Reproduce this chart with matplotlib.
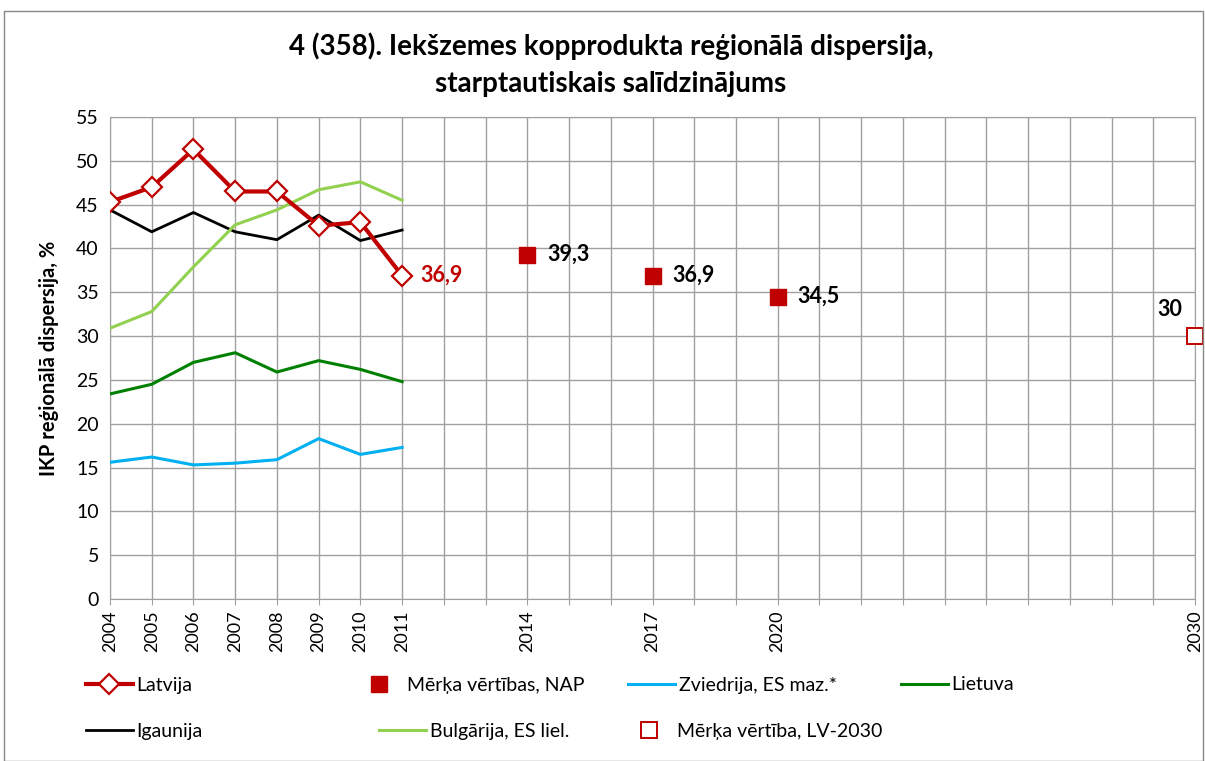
import matplotlib
matplotlib.use("Agg")
import matplotlib.pyplot as plt
from matplotlib.lines import Line2D
from matplotlib.patches import Rectangle

plt.rcParams['font.family'] = ['Lato', 'DejaVu Sans']

# data
years = list(range(2004, 2031))
hist_years = [2004, 2005, 2006, 2007, 2008, 2009, 2010, 2011]
latvija = [45.3, 47.0, 51.3, 46.5, 46.5, 42.6, 43.0, 36.9]
igaunija = [44.4, 41.9, 44.1, 41.9, 41.0, 43.8, 40.9, 42.1]
bulgarija = [30.9, 32.8, 37.9, 42.7, 44.4, 46.7, 47.6, 45.5]
lietuva = [23.4, 24.5, 27.0, 28.1, 25.9, 27.2, 26.2, 24.8]
zviedrija = [15.6, 16.2, 15.3, 15.5, 15.9, 18.3, 16.5, 17.3]
nap_years = [2014, 2017, 2020]
nap_values = [39.3, 36.9, 34.5]
lv2030_years = [2030]
lv2030_values = [30]
shown_years = [2004, 2005, 2006, 2007, 2008, 2009, 2010, 2011, 2014, 2017, 2020, 2030]

RED = '#C00000'


def pos(ys):
    return [years.index(y) for y in ys]


fig = plt.figure(figsize=(12.05, 7.61), dpi=100)
ax = fig.add_axes([110/1205, 1-599/761, (1195-110)/1205, (599-117)/761])

ax.plot(pos(hist_years), zviedrija, color='#00B0F0', lw=2.2, zorder=3)
ax.plot(pos(hist_years), lietuva, color='#008000', lw=2.2, zorder=3)
ax.plot(pos(hist_years), igaunija, color='black', lw=2.0, zorder=3)
ax.plot(pos(hist_years), bulgarija, color='#92D050', lw=2.2, zorder=3)
ax.plot(pos(hist_years), latvija, color=RED, lw=3, marker='D', ms=10,
        mfc='white', mec=RED, mew=1.6, zorder=4)
ax.plot(pos(nap_years), nap_values, ls='none', marker='s', ms=12,
        color=RED, zorder=5)
ax.plot(pos(lv2030_years), lv2030_values, ls='none', marker='s', ms=11,
        mfc='white', mec=RED, mew=1.4, zorder=5, clip_on=False)

# data labels
ax.annotate('36,9', (pos([2011])[0], latvija[-1]), xytext=(18, 0),
            textcoords='offset pixels', va='center', ha='left',
            fontsize=15.5, fontweight='bold', color=RED)
for y, v in zip(nap_years, nap_values):
    ax.annotate(str(v).replace('.', ','), (pos([y])[0], v), xytext=(20, 0),
                textcoords='offset pixels', va='center', ha='left',
                fontsize=15.5, fontweight='bold', color='black')
ax.annotate('30', (pos([2030])[0], 30), xytext=(-25, 27),
            textcoords='offset pixels', va='center', ha='center',
            fontsize=15.5, fontweight='bold', color='black')

ax.set_xlim(0, len(years) - 1)
ax.set_ylim(0, 55)
ax.set_yticks(range(0, 56, 5))
ax.set_xticks(range(len(years)))
ax.set_xticklabels([str(y) if y in shown_years else '' for y in years],
                   rotation=90, fontsize=13)
ax.tick_params(axis='y', labelsize=14, length=0, pad=8)
ax.tick_params(axis='x', length=4, color='#A0A0A0', pad=4)
ax.grid(True, color='#A0A0A0', lw=1)
ax.set_axisbelow(True)
for s in ax.spines.values():
    s.set_color('#A0A0A0')
ax.set_ylabel('IKP reģionālā dispersija, %', fontsize=14.5, fontweight='bold',
              labelpad=12)

fig.text(0.507, 1-46/761, '4 (358). Iekšzemes kopprodukta reģionālā dispersija,',
         ha='center', va='center', fontsize=20, fontweight='bold')
fig.text(0.507, 1-84/761, 'starptautiskais salīdzinājums',
         ha='center', va='center', fontsize=20, fontweight='bold')

# legend, one entry at a time to keep Excel-like positions
entries = [
    (Line2D([], [], color=RED, lw=3, marker='D', ms=10, mfc='white', mec=RED, mew=1.6),
     'Latvija', 86, 685),
    (Line2D([], [], ls='none', color=RED, marker='s', ms=12),
     'Mērķa vērtības, NAP', 356, 685),
    (Line2D([], [], color='#00B0F0', lw=2.2), 'Zviedrija, ES maz.*', 628, 685),
    (Line2D([], [], color='#008000', lw=2.2), 'Lietuva', 901, 685),
    (Line2D([], [], color='black', lw=2.0), 'Igaunija', 86, 731),
    (Line2D([], [], color='#92D050', lw=2.2), 'Bulgārija, ES liel.', 379, 731),
    (Line2D([], [], ls='none', marker='s', ms=11, mfc='white', mec=RED, mew=1.4),
     'Mērķa vērtība, LV-2030', 626, 731),
]
for h, lab, px, py in entries:
    fig.legend([h], [lab], loc='center left', bbox_to_anchor=(px/1205, 1-py/761),
               frameon=False, fontsize=14, handlelength=2.4, handletextpad=0.2,
               borderpad=0, borderaxespad=0)

fig.add_artist(Rectangle((4/1205, 0), 1199/1205, 1-11/761, transform=fig.transFigure,
                         fill=False, edgecolor='#888888', lw=1))

fig.savefig('out.png', dpi=100)
